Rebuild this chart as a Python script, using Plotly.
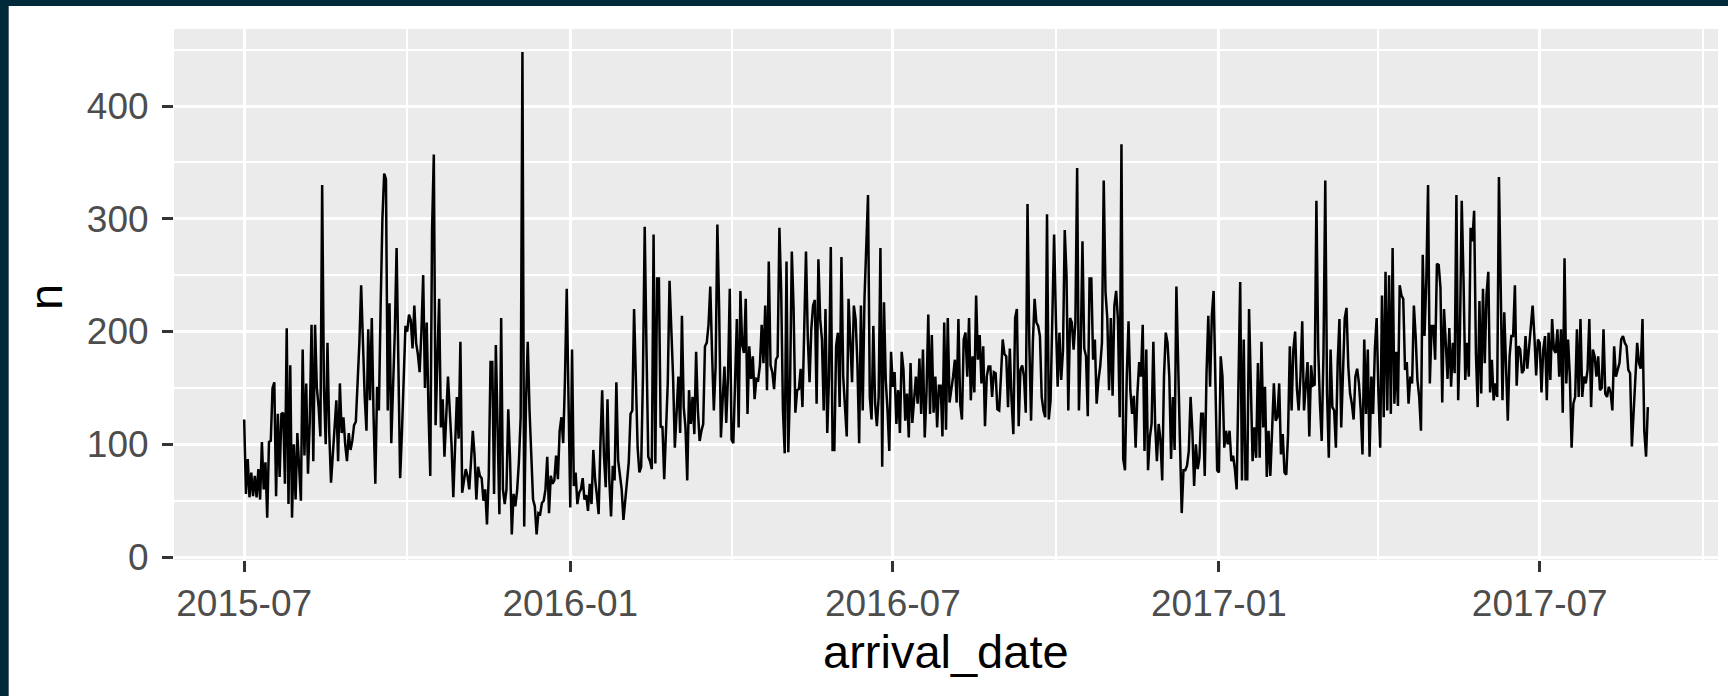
import pandas as pd
import plotly.graph_objects as go

# Daily booking counts (n) by arrival_date, one list per month
n_2015_07 = [122,56,87,53,75,54,72,53,78,51,102,60,84,35,102,103,150,155,54,127,71,127,128,65,203,47,170,35,100,51,110]
n_2015_08 = [75,50,184,90,154,74,120,206,85,206,150,133,107,330,150,100,190,110,66,90,112,139,85,154,110,124,100,85,110,95,103]
n_2015_09 = [117,120,150,190,241,180,142,112,202,139,212,125,65,151,130,223,300,340,335,130,225,101,150,200,274,160,70,110,150,205]
n_2015_10 = [200,215,210,185,223,190,180,164,200,250,150,208,130,72,289,357,117,180,229,115,140,89,125,160,130,100,53,100,142,105,191]
n_2015_11 = [57,70,78,72,60,85,112,90,51,80,72,70,50,60,29,72,173,173,56,188,100,38,212,60,47,60,131,88,20,56]
n_2015_12 = [45,59,84,124,448,27,136,191,130,81,51,45,20,39,38,48,50,60,89,39,72,65,68,90,69,112,124,101,157,238,151]
n_2016_01 = [44,184,63,75,47,57,60,70,51,55,41,65,47,95,69,55,38,100,148,90,62,140,69,36,81,68,155,86,70,60,33]
n_2016_02 = [50,63,84,127,130,220,160,97,75,80,160,293,184,89,85,78,286,83,247,247,115,116,69,115,154,245,202,160,97]
n_2016_03 = [125,160,110,214,133,115,68,148,118,142,109,182,130,103,112,118,187,190,206,240,181,130,169,295,220,106,140,169,119,160,238]
n_2016_04 = [104,101,150,211,115,236,188,181,229,127,187,158,178,140,158,157,170,206,172,223,148,262,170,164,149,175,178,292,236,130]
n_2016_05 = [92,262,93,151,271,221,128,148,149,167,133,202,271,196,155,202,223,228,136,264,211,193,130,220,110,160,275,95,95,187,199]
n_2016_06 = [133,266,160,131,107,229,196,155,223,211,172,101,223,130,229,283,321,142,122,205,136,116,142,274,80,226,157,130,94,182]
n_2016_07 = [151,164,118,148,110,182,166,121,145,106,172,119,142,160,136,176,127,184,106,146,215,127,197,128,160,115,152,152,107,208,113]
n_2016_08 = [212,137,148,160,175,137,211,136,122,193,199,160,212,139,178,146,232,175,197,154,187,116,160,169,169,142,164,163,131,130,160]
n_2016_09 = [193,180,178,133,185,139,109,212,220,116,166,170,160,128,313,190,121,190,229,208,205,196,142,130,124,304,122,139,209,286]
n_2016_10 = [211,151,199,157,183,290,250,130,212,208,184,208,345,130,184,280,185,178,125,247,247,175,193,136,157,169,190,334,235,212,148]
n_2016_11 = [212,143,223,236,211,124,366,87,77,160,209,148,127,143,97,145,173,160,206,94,184,77,106,118,191,118,85,118,104,68]
n_2016_12 = [160,199,190,160,87,142,95,240,160,103,39,77,77,81,94,142,112,63,100,78,88,127,127,72,163,214,151,214,236,154,77]
n_2017_01 = [75,178,160,97,112,100,112,85,90,78,60,139,244,68,193,69,69,220,145,85,115,88,172,88,191,115,151,71,112,72,112]
n_2017_02 = [154,121,124,154,91,109,75,73,109,187,130,184,200,149,130,160,209,130,157,173,107,170,152,153,316,185,136,103]
n_2017_03 = [181,334,145,88,184,133,130,97,172,211,115,175,212,221,169,145,136,122,160,167,154,130,91,193,127,184,89,160,127,185,212]
n_2017_04 = [145,97,232,124,253,130,250,127,274,136,182,134,241,232,229,166,173,136,160,154,223,196,157,142,112,268,196,244,330,154]
n_2017_05 = [205,205,175,260,259,239,137,220,190,158,203,151,190,163,321,139,199,316,247,157,190,160,292,280,307,181,133,227,145,238,172]
n_2017_06 = [233,253,146,175,139,154,142,337,223,139,217,160,121,178,196,196,241,152,187,184,163,166,196,167,184,199,223,196,161,193]
n_2017_07 = [190,146,184,196,139,199,157,211,184,181,202,160,202,128,265,154,193,160,97,136,142,202,142,211,142,160,154,166,211,133,184]
n_2017_08 = [178,160,178,148,150,202,145,142,151,146,130,187,160,166,172,193,196,190,187,166,163,98,130,160,190,172,167,211,112,89,133]

month_starts = ["2015-07", "2015-08", "2015-09", "2015-10", "2015-11", "2015-12",
                "2016-01", "2016-02", "2016-03", "2016-04", "2016-05", "2016-06",
                "2016-07", "2016-08", "2016-09", "2016-10", "2016-11", "2016-12",
                "2017-01", "2017-02", "2017-03", "2017-04", "2017-05", "2017-06",
                "2017-07", "2017-08"]
month_values = [n_2015_07, n_2015_08, n_2015_09, n_2015_10, n_2015_11, n_2015_12,
                n_2016_01, n_2016_02, n_2016_03, n_2016_04, n_2016_05, n_2016_06,
                n_2016_07, n_2016_08, n_2016_09, n_2016_10, n_2016_11, n_2016_12,
                n_2017_01, n_2017_02, n_2017_03, n_2017_04, n_2017_05, n_2017_06,
                n_2017_07, n_2017_08]

x_tick_dates = ["2015-07-01", "2016-01-01", "2016-07-01", "2017-01-01", "2017-07-01"]
x_tick_labels = ["2015-07", "2016-01", "2016-07", "2017-01", "2017-07"]
x_minor_dates = ["2015-10-01", "2016-04-01", "2016-10-01", "2017-04-01", "2017-10-01"]
y_tick_vals = [0, 100, 200, 300, 400]
y_minor_vals = [50, 150, 250, 350, 450]

bad = []
dates, values = [], []
for ms, vals in zip(month_starts, month_values):
    p = pd.Period(ms, freq="M")
    if len(vals) != p.days_in_month:
        bad.append((ms, len(vals), p.days_in_month))
    d = pd.date_range(p.start_time, periods=len(vals), freq="D")
    dates.extend(d)
    values.extend(vals)
if bad:
    raise ValueError(f"month length mismatch: {bad}")

# figure geometry (px)
W, H = 1728, 696
L, R, T, B = 174, 10, 29, 136
pw, ph = W - L - R, H - T - B

first, last = dates[0], dates[-1]
span = last - first
x_range = [first - span * 0.05, last + span * 0.05]

fig = go.Figure()
fig.add_trace(go.Scatter(x=dates, y=values, mode="lines",
                         line=dict(color="#000000", width=2.5),
                         showlegend=False, hoverinfo="skip"))

tick_font = dict(family="Liberation Sans, Arial, sans-serif", size=37, color="#4D4D4D")
title_font = dict(family="Liberation Sans, Arial, sans-serif", size=47, color="#000000")

fig.update_layout(
    width=W, height=H,
    margin=dict(l=L, r=R, t=T, b=B, pad=0),
    paper_bgcolor="#FFFFFF",
    plot_bgcolor="#EBEBEB",
    showlegend=False,
    xaxis=dict(
        type="date", range=x_range,
        tickmode="array", tickvals=x_tick_dates, ticktext=x_tick_labels,
        showgrid=True, gridcolor="#FFFFFF", gridwidth=3,
        ticks="outside", ticklen=11, tickwidth=3, tickcolor="#333333",
        tickfont=tick_font, ticklabelstandoff=0,
        showline=False, zeroline=False,
        minor=dict(tickmode="array", tickvals=x_minor_dates, showgrid=True,
                   gridcolor="#FFFFFF", gridwidth=1.6, ticks=""),
    ),
    yaxis=dict(
        range=[-2.6, 468.3],
        tickmode="array", tickvals=y_tick_vals,
        showgrid=True, gridcolor="#FFFFFF", gridwidth=3,
        ticks="outside", ticklen=11, tickwidth=3, tickcolor="#333333",
        tickfont=tick_font, ticklabelstandoff=6,
        showline=False, zeroline=False,
        minor=dict(tickmode="array", tickvals=y_minor_vals, showgrid=True,
                   gridcolor="#FFFFFF", gridwidth=1.6, ticks=""),
    ),
)

def px_x(px):
    return (px - L) / pw

def px_y(py):
    return (H - B - py) / ph

fig.add_annotation(text="arrival_date", xref="paper", yref="paper",
                   x=0.5, y=px_y(651), xanchor="center", yanchor="middle",
                   showarrow=False, font=title_font)
fig.add_annotation(text="n", xref="paper", yref="paper",
                   x=px_x(46), y=px_y(297), xanchor="center", yanchor="middle",
                   textangle=-90, showarrow=False, font=title_font)

frame = "#002A3A"
fig.add_shape(type="rect", xref="paper", yref="paper",
              x0=px_x(0), x1=px_x(8.7), y0=px_y(H), y1=px_y(0),
              fillcolor=frame, line=dict(width=0), layer="above")
fig.add_shape(type="rect", xref="paper", yref="paper",
              x0=px_x(0), x1=px_x(W), y0=px_y(6), y1=px_y(0),
              fillcolor=frame, line=dict(width=0), layer="above")

fig.write_html("out.html",
               config={"displayModeBar": False},
               post_script="document.body.style.margin='0';"
                           "document.body.style.overflow='hidden';")
